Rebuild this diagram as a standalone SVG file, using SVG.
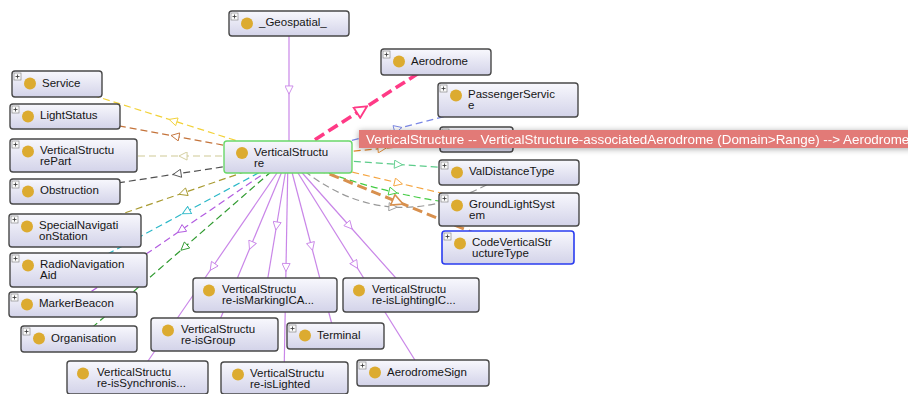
<svg xmlns="http://www.w3.org/2000/svg" xmlns:xlink="http://www.w3.org/1999/xlink" width="908" height="394" viewBox="0 0 908 394">
<style>
.box{fill:url(#ng);stroke:#484848;stroke-width:1.4}
.dot{fill:#dcab30}
.t{font-family:"Liberation Sans",Arial,Helvetica,sans-serif;font-size:11.5px;fill:#151515}
.c{fill:none;stroke-width:1.2}
.d{stroke-dasharray:7,4}
.tip{font-family:"Liberation Sans",Arial,Helvetica,sans-serif;font-size:13.4px;fill:#ffffff}
</style>
<defs>
<linearGradient id="ng" x1="0" y1="0" x2="0" y2="1">
<stop offset="0" stop-color="#f8f8fd"/>
<stop offset="1" stop-color="#d3d3e9"/>
</linearGradient>
<symbol id="plus" viewBox="0 0 7 7" width="7" height="7" overflow="visible">
<rect x="0" y="0" width="7" height="7" fill="#fafafa" stroke="#8a8a8a" stroke-width="0.7"/>
<path d="M1.5,3.5 H5.5 M3.5,1.5 V5.5" stroke="#333" stroke-width="0.8"/>
</symbol>
<filter id="sh" x="-5%" y="-80%" width="110%" height="260%">
<feGaussianBlur in="SourceAlpha" stdDeviation="3"/>
<feOffset dy="1"/>
<feComponentTransfer><feFuncA type="linear" slope="0.35"/></feComponentTransfer>
<feMerge><feMergeNode/><feMergeNode in="SourceGraphic"/></feMerge>
</filter>
<marker id="m-yel" viewBox="0 0 10 10" refX="5" refY="5" markerWidth="10" markerHeight="9" markerUnits="userSpaceOnUse" orient="auto"><path d="M0.5,0.5 L9.5,5 L0.5,9.5 Z" fill="#fff" stroke="#f2d23a"/></marker>
<marker id="m-brn" viewBox="0 0 10 10" refX="5" refY="5" markerWidth="10" markerHeight="9" markerUnits="userSpaceOnUse" orient="auto"><path d="M0.5,0.5 L9.5,5 L0.5,9.5 Z" fill="#fff" stroke="#c4733a"/></marker>
<marker id="m-kha" viewBox="0 0 10 10" refX="5" refY="5" markerWidth="10" markerHeight="9" markerUnits="userSpaceOnUse" orient="auto"><path d="M0.5,0.5 L9.5,5 L0.5,9.5 Z" fill="#fff" stroke="#cfc996"/></marker>
<marker id="m-dgr" viewBox="0 0 10 10" refX="5" refY="5" markerWidth="10" markerHeight="9" markerUnits="userSpaceOnUse" orient="auto"><path d="M0.5,0.5 L9.5,5 L0.5,9.5 Z" fill="#fff" stroke="#505050"/></marker>
<marker id="m-olv" viewBox="0 0 10 10" refX="5" refY="5" markerWidth="10" markerHeight="9" markerUnits="userSpaceOnUse" orient="auto"><path d="M0.5,0.5 L9.5,5 L0.5,9.5 Z" fill="#fff" stroke="#a89a30"/></marker>
<marker id="m-cyn" viewBox="0 0 10 10" refX="5" refY="5" markerWidth="10" markerHeight="9" markerUnits="userSpaceOnUse" orient="auto"><path d="M0.5,0.5 L9.5,5 L0.5,9.5 Z" fill="#fff" stroke="#2cb8c8"/></marker>
<marker id="m-pur" viewBox="0 0 10 10" refX="5" refY="5" markerWidth="10" markerHeight="9" markerUnits="userSpaceOnUse" orient="auto"><path d="M0.5,0.5 L9.5,5 L0.5,9.5 Z" fill="#fff" stroke="#b25ce0"/></marker>
<marker id="m-grn" viewBox="0 0 10 10" refX="5" refY="5" markerWidth="10" markerHeight="9" markerUnits="userSpaceOnUse" orient="auto"><path d="M0.5,0.5 L9.5,5 L0.5,9.5 Z" fill="#fff" stroke="#2f9a2f"/></marker>
<marker id="m-vio" viewBox="0 0 10 10" refX="5" refY="5" markerWidth="10" markerHeight="9" markerUnits="userSpaceOnUse" orient="auto"><path d="M0.5,0.5 L9.5,5 L0.5,9.5 Z" fill="#fff" stroke="#c986e8"/></marker>
<marker id="m-pnk" viewBox="0 0 10 10" refX="5" refY="5" markerWidth="15" markerHeight="14" markerUnits="userSpaceOnUse" orient="auto"><path d="M0.7,0.7 L9.3,5 L0.7,9.3 Z" fill="#fff" stroke="#ff3a86" stroke-width="1.3"/></marker>
<marker id="m-blu" viewBox="0 0 10 10" refX="5" refY="5" markerWidth="10" markerHeight="9" markerUnits="userSpaceOnUse" orient="auto"><path d="M0.5,0.5 L9.5,5 L0.5,9.5 Z" fill="#fff" stroke="#7b88e6"/></marker>
<marker id="m-org" viewBox="0 0 10 10" refX="5" refY="5" markerWidth="10" markerHeight="9" markerUnits="userSpaceOnUse" orient="auto"><path d="M0.5,0.5 L9.5,5 L0.5,9.5 Z" fill="#fff" stroke="#e0852a"/></marker>
<marker id="m-lgr" viewBox="0 0 10 10" refX="5" refY="5" markerWidth="10" markerHeight="9" markerUnits="userSpaceOnUse" orient="auto"><path d="M0.5,0.5 L9.5,5 L0.5,9.5 Z" fill="#fff" stroke="#5ccc8a"/></marker>
<marker id="m-or2" viewBox="0 0 10 10" refX="5" refY="5" markerWidth="10" markerHeight="9" markerUnits="userSpaceOnUse" orient="auto"><path d="M0.5,0.5 L9.5,5 L0.5,9.5 Z" fill="#fff" stroke="#f5a540"/></marker>
<marker id="m-gr2" viewBox="0 0 10 10" refX="5" refY="5" markerWidth="10" markerHeight="9" markerUnits="userSpaceOnUse" orient="auto"><path d="M0.5,0.5 L9.5,5 L0.5,9.5 Z" fill="#fff" stroke="#44cc44"/></marker>
<marker id="m-gry" viewBox="0 0 10 10" refX="5" refY="5" markerWidth="10" markerHeight="9" markerUnits="userSpaceOnUse" orient="auto"><path d="M0.5,0.5 L9.5,5 L0.5,9.5 Z" fill="#fff" stroke="#999999"/></marker>
<marker id="m-tan" viewBox="0 0 10 10" refX="5" refY="5" markerWidth="14" markerHeight="13" markerUnits="userSpaceOnUse" orient="auto"><path d="M0.7,0.7 L9.3,5 L0.7,9.3 Z" fill="#fff" stroke="#d8904e" stroke-width="1.2"/></marker>
</defs>
<rect width="908" height="394" fill="#ffffff"/>

<g id="connectors">
<path class="c" stroke="#c986e8" marker-mid="url(#m-vio)" d="M289,24 L289,90 L289,157"/>
<path class="c d" stroke="#f2d23a" marker-mid="url(#m-yel)" d="M288,157 L173,120.6 L57,84"/>
<path class="c d" stroke="#c4733a" marker-mid="url(#m-brn)" d="M288,157 L175,136.2 L65,116"/>
<path class="c d" stroke="#cfc996" marker-mid="url(#m-kha)" d="M288,156 L183,156 L73,156"/>
<path class="c d" stroke="#505050" marker-mid="url(#m-dgr)" d="M288,157 L177,173.9 L65,191"/>
<path class="c d" stroke="#a89a30" marker-mid="url(#m-olv)" d="M288,157 L183,193 L75,230"/>
<path class="c d" stroke="#2cb8c8" marker-mid="url(#m-cyn)" d="M288,157 L186,211.9 L78,270"/>
<path class="c d" stroke="#b25ce0" marker-mid="url(#m-pur)" d="M288,157 L181,230.2 L73,304"/>
<path class="c d" stroke="#2f9a2f" marker-mid="url(#m-grn)" d="M288,157 L184,247.6 L79,339"/>
<path class="c" stroke="#c986e8" marker-mid="url(#m-vio)" d="M288,157 L212.5,267 L137,377"/>
<path class="c" stroke="#c986e8" marker-mid="url(#m-vio)" d="M288,157 L251,245.5 L214,334"/>
<path class="c" stroke="#c986e8" marker-mid="url(#m-vio)" d="M288,157 L276.5,226 L265,295"/>
<path class="c" stroke="#c986e8" marker-mid="url(#m-vio)" d="M288,157 L286,267.5 L284,378"/>
<path class="c" stroke="#c986e8" marker-mid="url(#m-vio)" d="M288,157 L311.5,246.5 L335,336"/>
<path class="c" stroke="#c986e8" marker-mid="url(#m-vio)" d="M288,157 L349.5,226 L411,295"/>
<path class="c" stroke="#c986e8" marker-mid="url(#m-vio)" d="M288,157 L355.5,265 L423,373"/>
<path fill="none" stroke="#ff3a86" stroke-width="3.6" stroke-dasharray="11,5" marker-mid="url(#m-pnk)" d="M288,157 L362,109.5 L436,62"/>
<path class="c d" stroke="#7b88e6" marker-mid="url(#m-blu)" d="M288,157 L398,128.5 L508,100"/>
<path class="c d" stroke="#e0852a" marker-mid="url(#m-org)" d="M288,157 L382,148.5 L476,140"/>
<path class="c d" stroke="#5ccc8a" marker-mid="url(#m-lgr)" d="M288,157 L398.5,164.5 L509,172"/>
<path class="c d" stroke="#f5a540" marker-mid="url(#m-or2)" d="M288,157 L398.5,183 L509,209"/>
<path class="c d" stroke="#44cc44" marker-mid="url(#m-gr2)" d="M288,157 Q337.75,179 393,192 Q448.25,205 509,209"/>
<path class="c d" stroke="#999999" marker-mid="url(#m-gry)" d="M288,157 Q337.75,203.25 393,207 Q448.25,210.75 509,172"/>
<path fill="none" stroke="#d8904e" stroke-width="3" stroke-dasharray="10,5" marker-mid="url(#m-tan)" d="M288,157 L398,202 L508,247"/>
</g>

<g id="n-geospatial"><rect class="box" x="229" y="11" width="120" height="25" rx="3"/><use href="#plus" x="231" y="13"/><circle class="dot" cx="247" cy="23.5" r="6"/><text class="t" x="259" y="26">_Geospatial_</text></g>
<g id="n-service"><rect class="box" x="12" y="71" width="90" height="26" rx="3"/><use href="#plus" x="14" y="73"/><circle class="dot" cx="30" cy="83.5" r="6"/><text class="t" x="42" y="86.5">Service</text></g>
<g id="n-lightstatus"><rect class="box" x="10" y="104" width="110" height="25" rx="3"/><use href="#plus" x="12" y="106"/><circle class="dot" cx="28" cy="116.5" r="6"/><text class="t" x="40" y="119">LightStatus</text></g>
<g id="n-vspart"><rect class="box" x="10" y="139" width="127" height="33" rx="3"/><use href="#plus" x="12" y="141"/><circle class="dot" cx="28" cy="151.5" r="6"/><text class="t" x="40" y="154">VerticalStructu</text><text class="t" x="40" y="165">rePart</text></g>
<g id="n-obstruction"><rect class="box" x="10" y="179" width="110" height="25" rx="3"/><use href="#plus" x="12" y="181"/><circle class="dot" cx="28" cy="191.5" r="6"/><text class="t" x="40" y="194">Obstruction</text></g>
<g id="n-specialnav"><rect class="box" x="9" y="214" width="132" height="33" rx="3"/><use href="#plus" x="11" y="216"/><circle class="dot" cx="27" cy="226.5" r="6"/><text class="t" x="39" y="229">SpecialNavigati</text><text class="t" x="39" y="240">onStation</text></g>
<g id="n-radionav"><rect class="box" x="10" y="253" width="137" height="34" rx="3"/><use href="#plus" x="12" y="255"/><circle class="dot" cx="28" cy="265.5" r="6"/><text class="t" x="40" y="268">RadioNavigation</text><text class="t" x="40" y="279">Aid</text></g>
<g id="n-markerbeacon"><rect class="box" x="9" y="292" width="128" height="25" rx="3"/><use href="#plus" x="11" y="294"/><circle class="dot" cx="27" cy="304.5" r="6"/><text class="t" x="39" y="307">MarkerBeacon</text></g>
<g id="n-organisation"><rect class="box" x="21" y="326" width="116" height="26" rx="3"/><use href="#plus" x="23" y="328"/><circle class="dot" cx="39" cy="338.5" r="6"/><text class="t" x="51" y="341.5">Organisation</text></g>
<g id="n-verticalstructure"><rect class="box" x="224" y="141" width="128" height="32" rx="3" style="stroke:#6ad86a"/><circle class="dot" cx="242" cy="153" r="6"/><text class="t" x="254" y="156">VerticalStructu</text><text class="t" x="254" y="167">re</text></g>
<g id="n-aerodrome"><rect class="box" x="381" y="49" width="110" height="26" rx="3"/><use href="#plus" x="383" y="51"/><circle class="dot" cx="399" cy="61.5" r="6"/><text class="t" x="411" y="64.5">Aerodrome</text></g>
<g id="n-passengerservice"><rect class="box" x="438" y="83" width="140" height="34" rx="3"/><use href="#plus" x="440" y="85"/><circle class="dot" cx="456" cy="95.5" r="6"/><text class="t" x="468" y="98">PassengerServic</text><text class="t" x="468" y="109">e</text></g>
<g id="n-hidden"><rect class="box" x="440" y="127" width="73" height="25" rx="3"/><use href="#plus" x="442" y="129"/><circle class="dot" cx="458" cy="139.5" r="6"/></g>
<g id="n-valdistancetype"><rect class="box" x="439" y="160" width="140" height="25" rx="3"/><use href="#plus" x="441" y="162"/><circle class="dot" cx="457" cy="172.5" r="6"/><text class="t" x="469" y="175">ValDistanceType</text></g>
<g id="n-groundlightsystem"><rect class="box" x="439" y="193" width="140" height="33" rx="3"/><use href="#plus" x="441" y="195"/><circle class="dot" cx="457" cy="205.5" r="6"/><text class="t" x="469" y="208">GroundLightSyst</text><text class="t" x="469" y="219">em</text></g>
<g id="n-codeverticalstructuretype"><rect class="box" x="442" y="231" width="132" height="33" rx="3" style="stroke:#2a3cf0;stroke-width:1.6"/><use href="#plus" x="444" y="233"/><circle class="dot" cx="460" cy="243.5" r="6"/><text class="t" x="472" y="246">CodeVerticalStr</text><text class="t" x="472" y="257">uctureType</text></g>
<g id="n-ismarking"><rect class="box" x="193" y="278" width="144" height="34" rx="3"/><circle class="dot" cx="209" cy="290.5" r="6"/><text class="t" x="222" y="293">VerticalStructu</text><text class="t" x="222" y="304">re-isMarkingICA...</text></g>
<g id="n-islighting"><rect class="box" x="343" y="278" width="136" height="34" rx="3"/><circle class="dot" cx="359" cy="290.5" r="6"/><text class="t" x="372" y="293">VerticalStructu</text><text class="t" x="372" y="304">re-isLightingIC...</text></g>
<g id="n-isgroup"><rect class="box" x="151" y="318" width="127" height="33" rx="3"/><circle class="dot" cx="168" cy="330.5" r="6"/><text class="t" x="181" y="333">VerticalStructu</text><text class="t" x="181" y="344">re-isGroup</text></g>
<g id="n-terminal"><rect class="box" x="287" y="323" width="97" height="26" rx="3"/><use href="#plus" x="289" y="325"/><circle class="dot" cx="305" cy="335.5" r="6"/><text class="t" x="317" y="338.5">Terminal</text></g>
<g id="n-issynchronis"><rect class="box" x="67" y="361" width="141" height="33" rx="3"/><circle class="dot" cx="83" cy="373.5" r="6"/><text class="t" x="97" y="376">VerticalStructu</text><text class="t" x="97" y="387">re-isSynchronis...</text></g>
<g id="n-islighted"><rect class="box" x="221" y="362" width="127" height="32" rx="3"/><circle class="dot" cx="238" cy="374.5" r="6"/><text class="t" x="250" y="377">VerticalStructu</text><text class="t" x="250" y="388">re-isLighted</text></g>
<g id="n-aerodromesign"><rect class="box" x="357" y="360" width="132" height="26" rx="3"/><use href="#plus" x="359" y="362"/><circle class="dot" cx="375" cy="372.5" r="6"/><text class="t" x="387" y="375.5">AerodromeSign</text></g>

<g id="tooltip" filter="url(#sh)">
<rect x="359" y="130" width="560" height="18" fill="#e27a77"/>
<text class="tip" x="366" y="143.5">VerticalStructure -- VerticalStructure-associatedAerodrome (Domain&gt;Range) --&gt; Aerodrome</text>
</g>
</svg>
